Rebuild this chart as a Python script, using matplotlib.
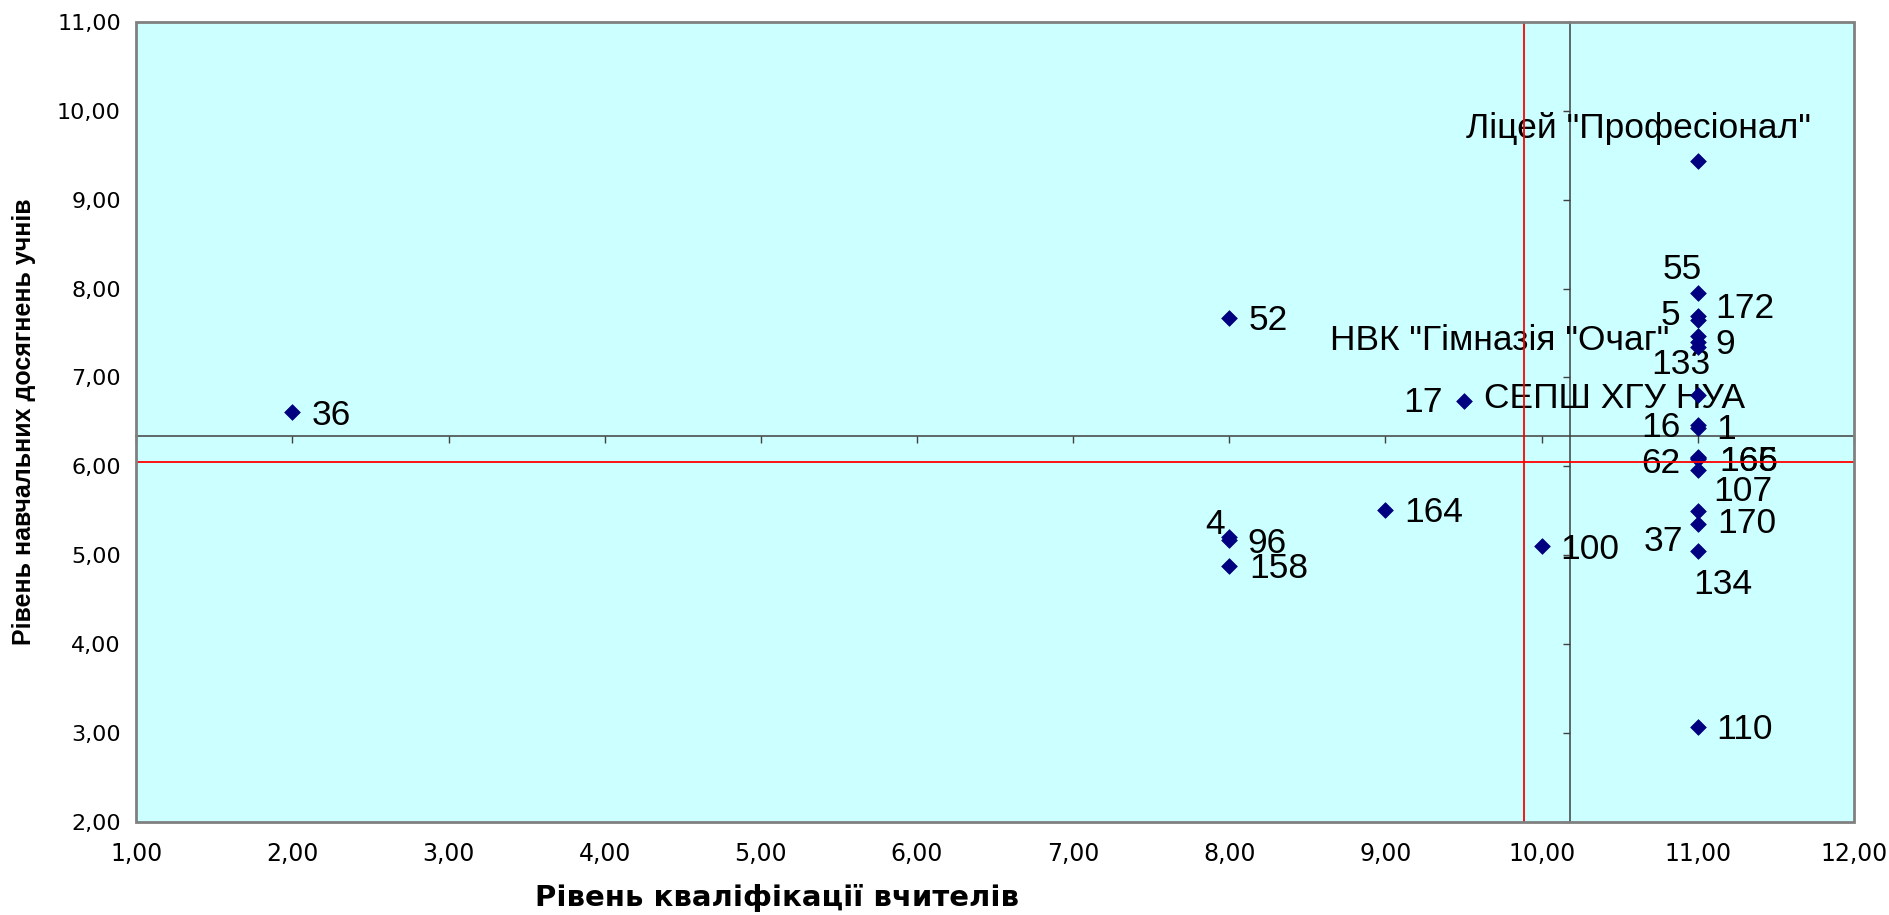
import matplotlib
matplotlib.use("Agg")
import matplotlib.pyplot as plt
from matplotlib.patches import Rectangle

# ---------------- data ----------------
point_labels = ["36", "52", "4", "96", "158", "164", "17", "100",
                "Ліцей \"Професіонал\"", "55", "5", "172", "НВК \"Гімназія \"Очаг\"",
                "9", "133", "СЕПШ ХГУ НУА", "16", "1", "62", "166", "165",
                "107", "170", "37", "134", "110"]
teacher_level = [2, 8, 8, 8, 8, 9, 9.5, 10,
                 11, 11, 11, 11, 11,
                 11, 11, 11, 11, 11, 11, 11, 11,
                 11, 11, 11, 11, 11]
student_level = [6.61, 7.67, 5.21, 5.17, 4.88, 5.51, 6.73, 5.10,
                 9.43, 7.95, 7.69, 7.65, 7.47,
                 7.40, 7.34, 6.80, 6.47, 6.43, 6.10, 6.09, 6.08,
                 5.96, 5.50, 5.35, 5.05, 3.07]
x_ticks = [1, 2, 3, 4, 5, 6, 7, 8, 9, 10, 11, 12]
y_ticks = [2, 3, 4, 5, 6, 7, 8, 9, 10, 11]
mean_teacher = 9.89      # red vertical line
mean_student = 6.05      # red horizontal line
cross_x = 10.18          # where the value axis crosses
cross_y = 6.34           # where the category axis crosses
x_title = "Рівень кваліфікації вчителів"
y_title = "Рівень навчальних досягнень учнів"

# ---------------- label placement (pixels, style) ----------------
label_offsets = [(19, 0, "left"), (19, 0, "left"), (-4, 15, "right"), (18, 0, "left"),
                 (20, 0, "left"), (19, 0, "left"), (-21, 2, "right"), (19, 0, "left"),
                 (-59, 36, "center"), (-16, 26, "center"), (-18, 4, "right"),
                 (18, 14, "left"), (-28, -2, "right"),
                 (18, 0, "left"), (-17, -14, "center"), (47, 0, "right"),
                 (-17, 0, "right"), (19, 2, "left"), (-17, -3, "right"),
                 (22, 0, "left"), (22, 1, "left"),
                 (16, -19, "left"), (20, -10, "left"), (-15, -14, "right"),
                 (25, -31, "center"), (19, 0, "left")]

W, H = 1890, 915
fig = plt.figure(figsize=(W / 100, H / 100), dpi=100)
fig.patch.set_facecolor("white")

L, R, T, B = 136.2, 1853.9, 21.7, 822.1
pos = [L / W, 1 - B / H, (R - L) / W, (B - T) / H]

ax = fig.add_axes(pos)
ax.set_facecolor("#CCFFFF")
ax.set_xlim(x_ticks[0], x_ticks[-1])
ax.set_ylim(y_ticks[0], y_ticks[-1])
ax.set_xticks(x_ticks)
ax.set_yticks(y_ticks)
for s in ("top", "right"):
    ax.spines[s].set_visible(False)
ax.spines["left"].set_position(("data", cross_x))
ax.spines["bottom"].set_position(("data", cross_y))
for s in ("left", "bottom"):
    ax.spines[s].set_color("#404040")
    ax.spines[s].set_linewidth(1.1)
ax.tick_params(direction="out", length=5, width=1, color="#404040",
               labelbottom=False, labelleft=False)

frame = Rectangle((0, 0), 1, 1, transform=ax.transAxes, fill=False,
                  edgecolor="#808080", linewidth=2, clip_on=False, zorder=8)
ax.add_patch(frame)

ax.axvline(mean_teacher, color="#FF0000", linewidth=1.3, zorder=6)
ax.axhline(mean_student, color="#FF0000", linewidth=1.3, zorder=6)

ax.scatter(teacher_level, student_level, marker="D", s=8 ** 2,
           color="#000080", edgecolors="#000080", linewidths=0.5,
           zorder=5, clip_on=False)

for lab, xv, yv, (dx, dy, ha) in zip(point_labels, teacher_level,
                                     student_level, label_offsets):
    ax.annotate(lab, (xv, yv), xytext=(dx, dy - 3), textcoords="offset pixels",
                ha=ha, va="center", fontsize=25.5, family="Liberation Sans",
                color="black", zorder=4)

# tick labels placed at the outer edge of the plot area
axl = fig.add_axes(pos, frameon=False)
axl.patch.set_visible(False)
axl.set_xlim(x_ticks[0], x_ticks[-1])
axl.set_ylim(y_ticks[0], y_ticks[-1])
axl.set_xticks(x_ticks)
axl.set_yticks(y_ticks)
axl.set_xticklabels([f"{v:.2f}".replace(".", ",") for v in x_ticks],
                    fontsize=17, family="DejaVu Sans")
axl.set_yticklabels([f"{v:.2f}".replace(".", ",") for v in y_ticks],
                    fontsize=16, family="DejaVu Sans")
axl.tick_params(axis="x", length=0, pad=14)
axl.tick_params(axis="y", length=0, pad=11)

fig.text(777.5 / W, 1 - 898 / H, x_title, ha="center", va="center",
         fontsize=21, fontweight="bold", family="DejaVu Sans")
fig.text(24 / W, 1 - 422 / H, y_title, ha="center", va="center", rotation=90,
         fontsize=18, fontweight="bold", family="Liberation Sans")

fig.savefig("out.png", dpi=100)
